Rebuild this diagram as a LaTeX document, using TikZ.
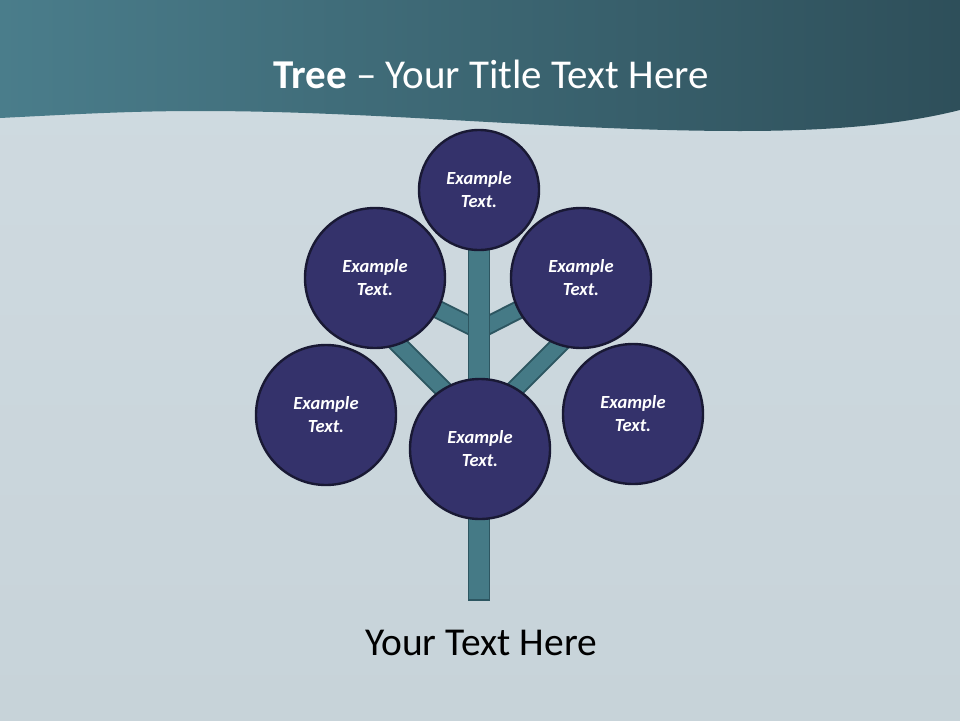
\documentclass[tikz,border=0pt]{standalone}
\usepackage{fontspec}
\setmainfont{Carlito}
\definecolor{bgA}{RGB}{208,219,225}
\definecolor{bgB}{RGB}{199,211,217}
\definecolor{hdL}{RGB}{74,125,139}
\definecolor{hdR}{RGB}{46,79,90}
\definecolor{branchfill}{RGB}{69,122,134}
\definecolor{branchline}{RGB}{45,86,97}
\definecolor{ballfill}{RGB}{52,50,107}
\definecolor{ballline}{RGB}{25,25,52}
\tikzset{
  ball/.style={circle, fill=ballfill, draw=ballline, line width=2.4pt, inner sep=0pt,
    text=white, align=center, font=\fontsize{18.5}{23}\selectfont\bfseries\itshape},
  bigball/.style={ball, minimum size=140pt},
  smallball/.style={ball, minimum size=120pt},
  branchout/.style={draw=branchline, line width=19pt, line cap=butt},
  branchin/.style={draw=branchfill, line width=15pt, line cap=butt},
}
\begin{document}
\begin{tikzpicture}[x=1pt,y=-1pt]
\useasboundingbox (0,0) rectangle (960,720);
% background
\shade[top color=bgA, bottom color=bgB] (0,0) rectangle (960,720);
% header wave
\shade[left color=hdL, right color=hdR]
  (0,0) -- (960,0) -- (960,110)
  .. controls (900,125) and (830,131) .. (740,131)
  .. controls (560,131) and (380,111) .. (200,111)
  .. controls (130,111) and (80,114) .. (0,118) -- cycle;
\node[anchor=base, text=white, font=\fontsize{41}{49}\selectfont] (title) at (491,88)
  {\textbf{Tree} -- Your Title Text Here};
% coordinates of the tree
\coordinate (j1) at (479,330);
\coordinate (j2) at (479,425);
\coordinate (e1) at (390,336);
\coordinate (e2) at (568,336);
\coordinate (ulc) at (375,278);
\coordinate (urc) at (581,278);
% branches
\foreach \a/\b in {j1/ulc, j1/urc, j2/e1, j2/e2}{
  \draw[branchout] (\a) -- (\b);
  \draw[branchin] (\a) -- (\b);
}
% trunk
\coordinate (ttop) at (468.5,235);
\coordinate (tbot) at (489.5,600);
\draw[fill=branchfill, draw=branchline, line width=1.8pt] (ttop) rectangle (tbot);
% circles
\node[smallball] (top) at (479,190) {Example\\Text.};
\node[bigball] (ul) at (375,278) {Example\\Text.};
\node[bigball] (ur) at (581,278) {Example\\Text.};
\node[bigball] (l) at (326,415) {Example\\Text.};
\node[bigball] (r) at (633,414) {Example\\Text.};
\node[bigball] (c) at (480,449) {Example\\Text.};
% bottom text
\node[anchor=base, text=black, font=\fontsize{39.5}{47}\selectfont] (bottom) at (481,655) {Your Text Here};
\end{tikzpicture}
\end{document}
